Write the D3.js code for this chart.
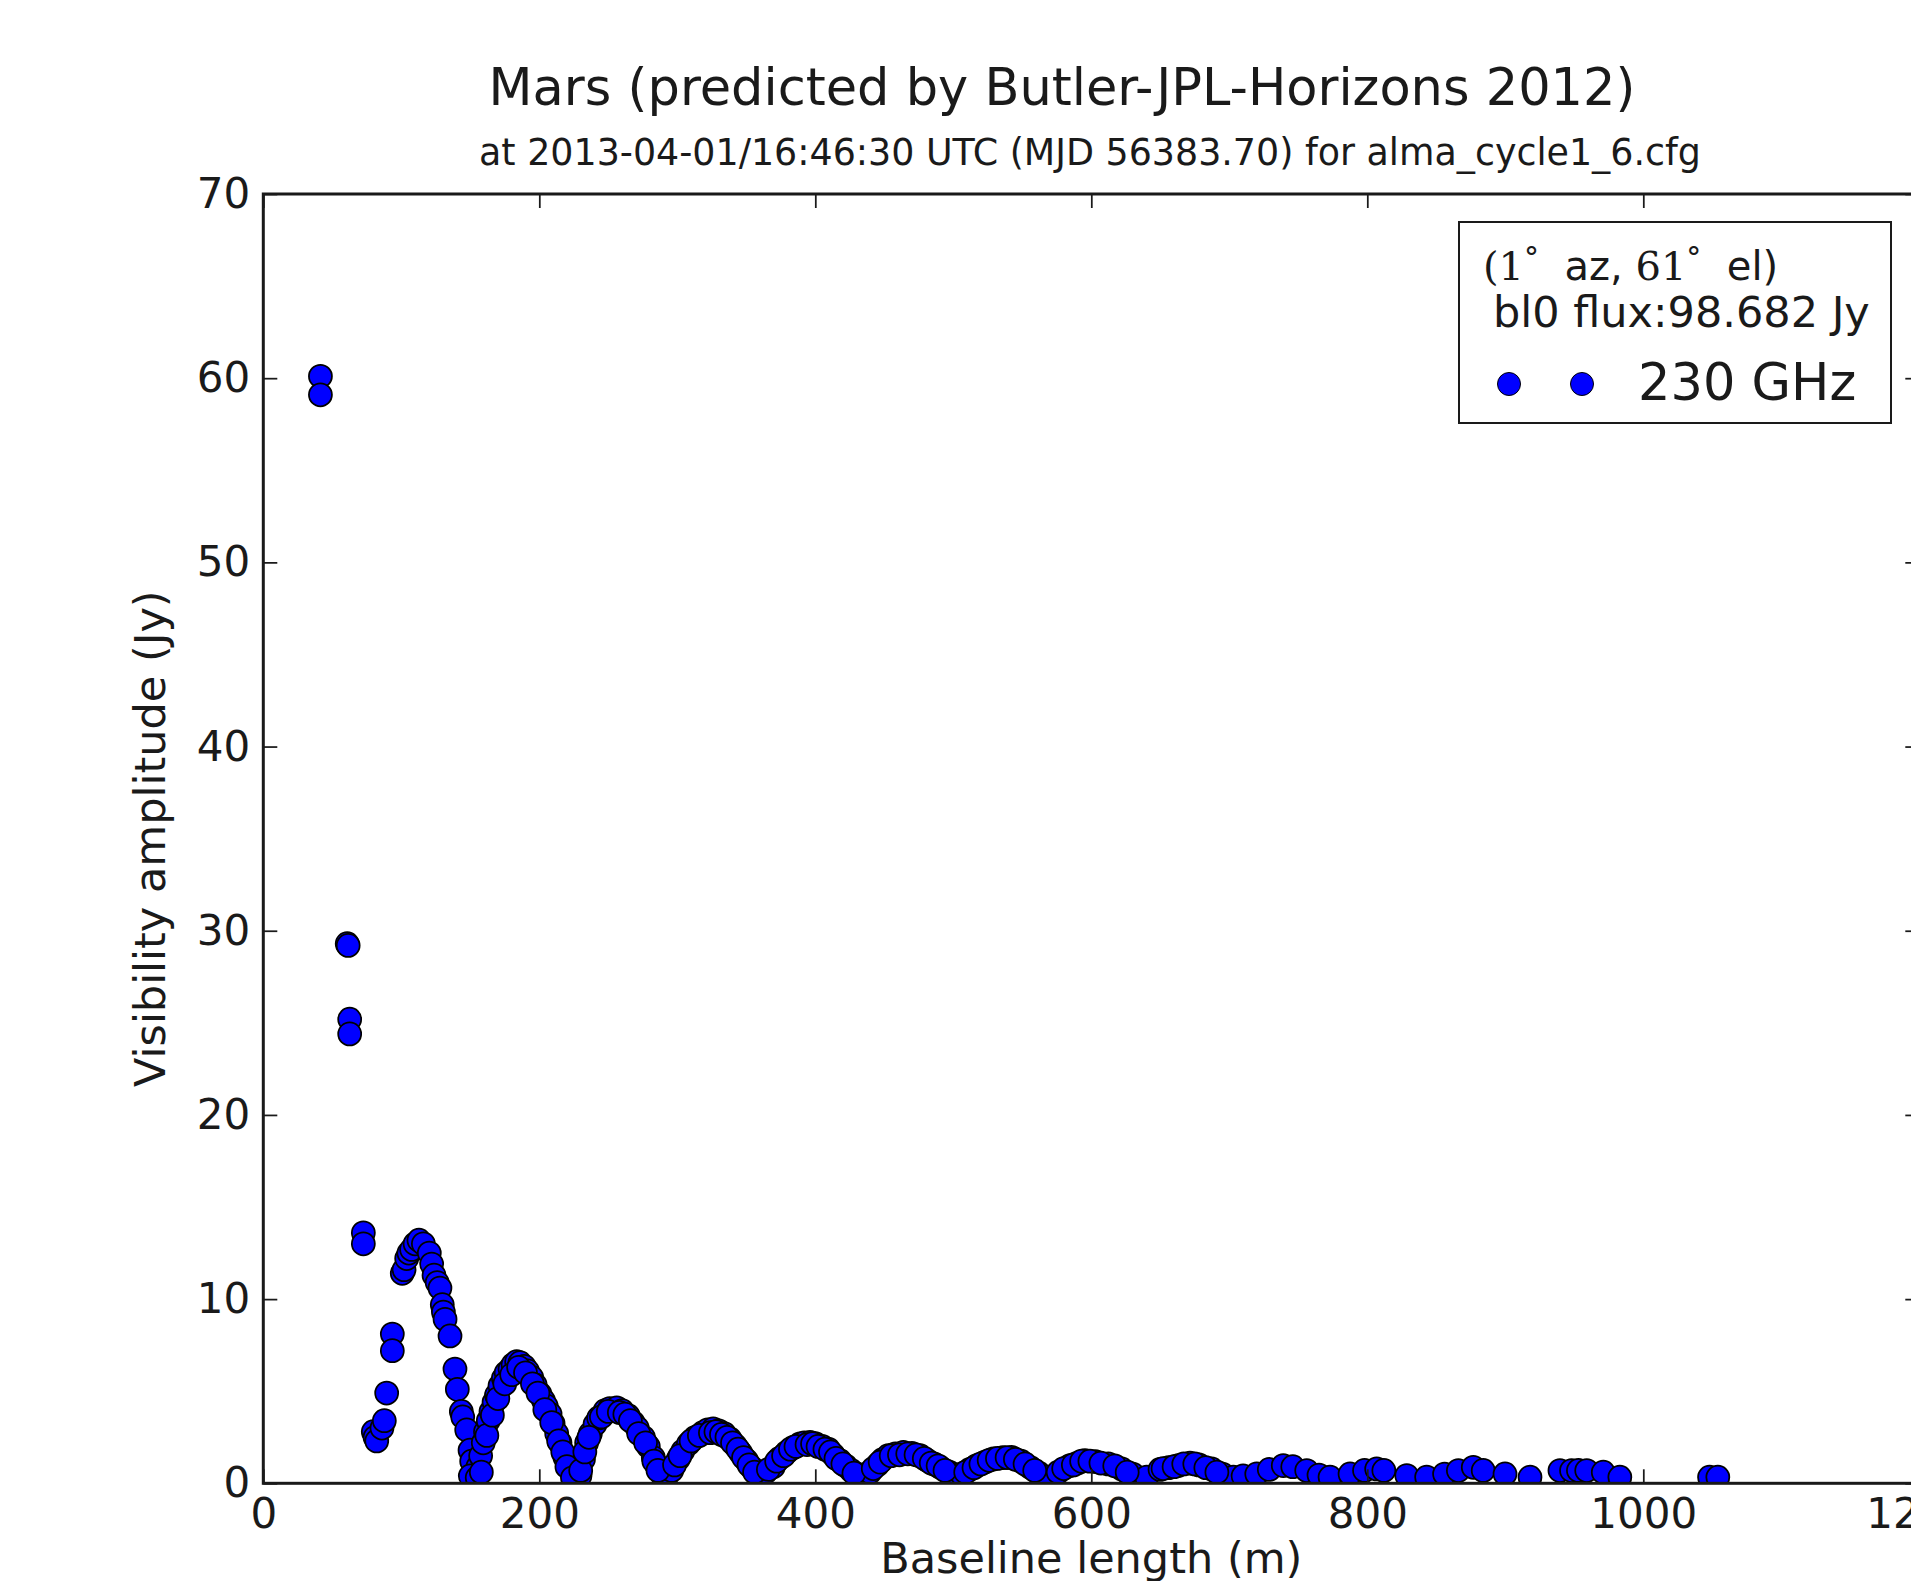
<!DOCTYPE html>
<html>
<head>
<meta charset="utf-8">
<script src="https://cdn.jsdelivr.net/npm/d3@7"></script>
<style>
  html, body { margin: 0; padding: 0; background: #ffffff; }
  svg { display: block; }
  text { font-family: "DejaVu Sans", sans-serif; fill: #1a1a1a; }
</style>
</head>
<body>
<svg id="chart" width="1911" height="1581"></svg>
<script>
// ---- data ----
const titleText = "Mars (predicted by Butler-JPL-Horizons 2012)";
const subtitleText = "at 2013-04-01/16:46:30 UTC (MJD 56383.70) for alma_cycle1_6.cfg";
const xLabel = "Baseline length (m)";
const yLabel = "Visibility amplitude (Jy)";
const legendFlux = "bl0 flux:98.682 Jy";
const legendSeries = "230 GHz";
const xTicks = [0, 200, 400, 600, 800, 1000, 1200];
const yTicks = [0, 10, 20, 30, 40, 50, 60, 70];
const xDomain = [0, 1200];
const yDomain = [0, 70];

// baseline length (m)
const baseline = [
  41.4, 41.4, 60.8, 61.5, 62.6, 62.6, 72.5, 72.5, 79.7, 81, 82.2, 86, 87.7, 89.4, 93.5, 93.5,
  100.7, 102, 103.9, 105.5, 107.5, 110, 112.8, 116, 120.3, 122, 123.7, 126, 128, 129.7, 130.5, 131.7,
  135.3, 138.9, 140.6, 143.5, 144.5, 147.4, 149.8, 151, 152.7, 154, 155.5, 157.5, 159.4, 161, 163, 165,
  167.2, 169, 171.5, 174, 176, 178.8, 181, 183.6, 186, 189, 191.5, 194.5, 197, 200.5, 203, 205,
  207.8, 210, 212.6, 215, 218.6, 221, 223.5, 226, 229.5, 232, 234.3, 237, 240.4, 243, 247.6, 251,
  256.1, 260, 264.5, 268, 271, 275.4, 279, 282.6, 285, 288.7, 292, 296, 300.7, 304, 308, 313,
  318.8, 322, 326, 330, 334, 338.2, 342, 346, 350.3, 354, 357.5, 360, 364, 369.6, 374, 379.3,
  384, 388.9, 392, 396.2, 400, 405, 409.4, 413, 417.9, 422, 426, 430, 435, 439.6, 445, 449,
  452.9, 458, 463.8, 470, 475.9, 481, 486, 490.4, 497, 502, 506.1, 512, 517, 523, 529, 536,
  542.3, 549, 555.6, 562, 568.8, 576, 584.6, 590, 595.4, 603, 612.3, 622, 630, 640.1, 649.8, 656,
  663, 671.5, 678, 687.2, 695, 702.9, 710, 719.9, 729, 739.1, 746, 756.1, 765, 773, 787.5, 798,
  806.8, 812, 828.6, 843, 856, 866, 876.8, 884, 899.8, 917.9, 939.6, 948, 953, 959, 971, 983,
  1048, 1054,
  // inner edge of the lobes (the bands are several markers thick)
  150, 155, 158, 162, 166, 170, 175, 180, 185, 190, 195, 199, 204, 209, 214, 217, 220, 224,
  230, 233, 236, 245, 250, 258, 262, 266, 272, 277, 283, 286,
  298, 302, 310, 316, 324, 328, 332, 336, 340, 344, 348, 352, 356,
  366, 372, 377, 382, 386, 394, 398, 402, 407, 411, 415, 420, 428,
  442, 447, 455, 461, 467, 473, 479, 484, 489, 494,
  509, 515, 520, 526, 532, 539, 545, 552, 559,
  580, 587, 593, 599, 607, 617, 626,
  652, 660, 667, 675, 683, 691
];
// visibility amplitude (Jy)
const amplitude = [
  60.1, 59.1, 29.3, 29.2, 25.2, 24.4, 13.6, 13.0, 2.8, 2.5, 2.3, 3.0, 3.4, 4.9, 8.1, 7.2,
  11.4, 11.6, 12.2, 12.5, 12.7, 13.0, 13.2, 13.0, 12.5, 11.9, 11.3, 10.9, 10.6, 9.7, 9.3, 8.9,
  8.0, 6.2, 5.1, 3.9, 3.6, 2.9, 1.8, 1.2, 0.5, 0.3, 0.9, 1.5, 2.2, 2.8, 3.4, 3.9,
  4.4, 4.8, 5.3, 5.7, 6.0, 6.2, 6.45, 6.6, 6.55, 6.35, 6.1, 5.75, 5.35, 4.85, 4.5, 4.2,
  3.76, 3.25, 2.7, 2.2, 1.4, 1.0, 0.7, 0.35, 0.4, 1.3, 2.2, 2.7, 3.2, 3.55, 3.94, 4.05,
  4.1, 3.95, 3.67, 3.3, 3.0, 2.5, 2.0, 1.4, 1.0, 0.5, 0.35, 0.7, 1.32, 1.75, 2.14, 2.5,
  2.77, 2.9, 2.95, 2.85, 2.7, 2.41, 2.05, 1.65, 1.23, 0.85, 0.51, 0.45, 0.6, 0.9, 1.35, 1.68,
  1.95, 2.14, 2.2, 2.22, 2.15, 2.0, 1.86, 1.55, 1.23, 0.95, 0.7, 0.51, 0.4, 0.6, 1.0, 1.3,
  1.5, 1.6, 1.68, 1.62, 1.5, 1.25, 1.05, 0.87, 0.6, 0.45, 0.51, 0.75, 0.96, 1.15, 1.32, 1.4,
  1.41, 1.2, 0.87, 0.55, 0.33, 0.6, 0.96, 1.1, 1.23, 1.18, 1.05, 0.78, 0.5, 0.33, 0.75, 0.85,
  0.96, 1.1, 1.0, 0.78, 0.5, 0.33, 0.4, 0.51, 0.75, 0.96, 0.9, 0.69, 0.45, 0.33, 0.51, 0.7,
  0.78, 0.7, 0.42, 0.33, 0.5, 0.69, 0.87, 0.7, 0.51, 0.33, 0.69, 0.69, 0.7, 0.69, 0.6, 0.33,
  0.33, 0.33,
  0.4, 0.3, 0.6, 2.6, 3.7, 4.6, 5.4, 5.9, 6.3, 6.0, 5.4, 4.9, 4.0, 3.3, 2.3, 1.7, 0.9, 0.3,
  0.7, 1.7, 2.5, 3.6, 3.9, 3.85, 3.75, 3.4, 2.7, 2.2, 1.2, 0.7,
  1.0, 1.5, 2.3, 2.6, 2.75, 2.8, 2.65, 2.5, 2.2, 1.85, 1.4, 1.0, 0.6,
  0.75, 1.2, 1.5, 1.85, 2.0, 2.1, 2.15, 2.0, 1.85, 1.7, 1.35, 1.05, 0.55,
  0.8, 1.15, 1.5, 1.55, 1.6, 1.55, 1.35, 1.1, 0.95, 0.7,
  0.6, 0.85, 1.05, 1.25, 1.35, 1.4, 1.3, 1.05, 0.7,
  0.8, 1.0, 1.2, 1.2, 1.1, 0.95, 0.6,
  0.8, 0.9, 1.05, 1.05, 0.85, 0.6
];

// ---- layout ----
const svg = d3.select("#chart");
const pL = 263.3, pR = 1919.3, pT = 194.0, pB = 1483.3;
const x = d3.scaleLinear().domain(xDomain).range([pL, pR]);
const y = d3.scaleLinear().domain(yDomain).range([pB, pT]);

svg.append("defs").append("clipPath").attr("id", "plotclip")
  .append("rect").attr("x", pL).attr("y", pT)
  .attr("width", pR - pL).attr("height", pB - pT);

// points
const pts = baseline.map((b, i) => ({ b: b, a: amplitude[i] }));
svg.append("g").attr("clip-path", "url(#plotclip)")
  .selectAll("circle").data(pts).enter().append("circle")
  .attr("cx", d => x(d.b)).attr("cy", d => y(d.a)).attr("r", 11.5)
  .attr("fill", "#0000ff").attr("stroke", "#000000").attr("stroke-width", 1.75);

// axes
const tickLen = 14;
const fmt = d3.format("d");
const gx = svg.append("g").attr("transform", `translate(0,${pB})`)
  .call(d3.axisBottom(x).tickValues(xTicks).tickFormat(fmt).tickSizeInner(-tickLen).tickSizeOuter(0).tickPadding(15));
const gxt = svg.append("g").attr("transform", `translate(0,${pT})`)
  .call(d3.axisTop(x).tickValues(xTicks).tickFormat("").tickSizeInner(-tickLen).tickSizeOuter(0));
const gy = svg.append("g").attr("transform", `translate(${pL},0)`)
  .call(d3.axisLeft(y).tickValues(yTicks).tickFormat(fmt).tickSizeInner(-tickLen).tickSizeOuter(0).tickPadding(13));
const gyr = svg.append("g").attr("transform", `translate(${pR},0)`)
  .call(d3.axisRight(y).tickValues(yTicks).tickFormat("").tickSizeInner(-tickLen).tickSizeOuter(0));
[gx, gxt, gy, gyr].forEach(g => {
  g.select(".domain").remove();
  g.selectAll(".tick line").attr("stroke", "#1a1a1a").attr("stroke-width", 1.75);
  g.selectAll(".tick text").attr("font-family", "DejaVu Sans").attr("font-size", 42).attr("fill", "#1a1a1a");
});

// frame
svg.append("rect").attr("x", pL).attr("y", pT)
  .attr("width", pR - pL).attr("height", pB - pT)
  .attr("fill", "none").attr("stroke", "#1a1a1a").attr("stroke-width", 3);

// titles
svg.append("text").attr("x", 1062).attr("y", 105).attr("text-anchor", "middle")
  .attr("font-size", 51).text(titleText);
svg.append("text").attr("x", 1090).attr("y", 165).attr("text-anchor", "middle")
  .attr("font-size", 36.4).text(subtitleText);
svg.append("text").attr("x", (pL + pR) / 2).attr("y", 1573).attr("text-anchor", "middle")
  .attr("font-size", 43).text(xLabel);
svg.append("text").attr("transform", `translate(165,${(pT + pB) / 2}) rotate(-90)`)
  .attr("text-anchor", "middle").attr("font-size", 43).text(yLabel);

// legend
const lg = svg.append("g");
lg.append("rect").attr("x", 1459).attr("y", 222).attr("width", 432).attr("height", 201)
  .attr("fill", "#ffffff").attr("stroke", "#1a1a1a").attr("stroke-width", 2);
const l1 = lg.append("text").attr("x", 1483).attr("y", 280).attr("font-size", 40);
l1.append("tspan").attr("font-family", "DejaVu Serif").text("(1");
l1.append("tspan").attr("font-family", "DejaVu Serif").attr("font-size", 30).attr("dy", -12).text("°");
l1.append("tspan").attr("dy", 12).text("\u00a0\u00a0az,\u00a0");
l1.append("tspan").attr("font-family", "DejaVu Serif").text("61");
l1.append("tspan").attr("font-family", "DejaVu Serif").attr("font-size", 30).attr("dy", -12).text("°");
l1.append("tspan").attr("dy", 12).text("\u00a0\u00a0el)");
lg.append("text").attr("x", 1493).attr("y", 327).attr("font-size", 43).text(legendFlux);
lg.selectAll("circle.lm").data([1509, 1582]).enter().append("circle").attr("class", "lm")
  .attr("cx", d => d).attr("cy", 384).attr("r", 11.5)
  .attr("fill", "#0000ff").attr("stroke", "#000000").attr("stroke-width", 1);
lg.append("text").attr("x", 1638).attr("y", 400).attr("font-size", 51).text(legendSeries);
</script>
</body>
</html>
